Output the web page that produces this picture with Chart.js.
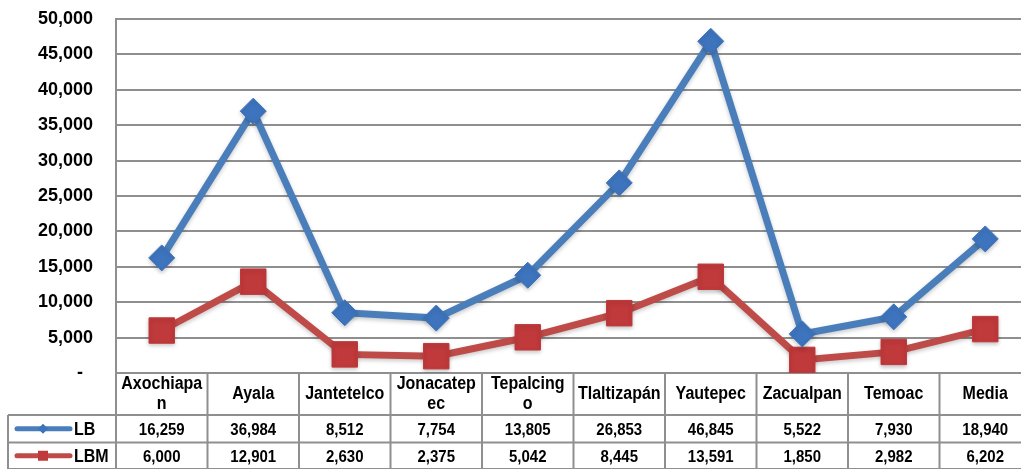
<!DOCTYPE html>
<html>
<head>
<meta charset="utf-8">
<script src="https://cdn.jsdelivr.net/npm/chart.js@4/dist/chart.umd.min.js"></script>
<style>
  html, body { margin: 0; padding: 0; background: #fff; overflow: hidden; }
  #wrap { width: 1032px; height: 469px; }
</style>
</head>
<body>
<div id="wrap"><canvas id="c" width="1032" height="469"></canvas></div>
<script>
const categories = ['Axochiapan', 'Ayala', 'Jantetelco', 'Jonacatepec', 'Tepalcingo', 'Tlaltizapán', 'Yautepec', 'Zacualpan', 'Temoac', 'Media'];
const lbValues = [16259, 36984, 8512, 7754, 13805, 26853, 46845, 5522, 7930, 18940];
const lbmValues = [6000, 12901, 2630, 2375, 5042, 8445, 13591, 1850, 2982, 6202];
const yTicks = [0, 5000, 10000, 15000, 20000, 25000, 30000, 35000, 40000, 45000, 50000];

const FONT = '"Liberation Sans", Arial, sans-serif';
const GRID = '#8f8f8f';
const BLUE = '#4a7ebb', BLUE_PT = '#3d74bd';
const RED = '#be4b48', RED_PT = '#c0393b';

function fmt(v) { return v.toLocaleString('en-US'); }

// split a label into lines that fit the column, breaking inside words like the original
function wrap(ctx, text, maxW) {
  const lines = [];
  let cur = '';
  for (const ch of text) {
    if (cur && ctx.measureText(cur + ch).width > maxW) { lines.push(cur); cur = ch; }
    else cur += ch;
  }
  if (cur) lines.push(cur);
  return lines;
}

// text in the table looks slightly taller than wide
function tallText(ctx, s, x, y) {
  ctx.save();
  ctx.translate(x, y);
  ctx.scale(1, 1.15);
  ctx.fillText(s, 0, 0);
  ctx.restore();
}

const shadow = {
  id: 'shadow',
  beforeDatasetsDraw(chart) {
    const ctx = chart.ctx;
    ctx.save();
    ctx.shadowColor = 'rgba(0,0,0,0.22)';
    ctx.shadowBlur = 4;
    ctx.shadowOffsetY = 2;
  },
  afterDatasetsDraw(chart) { chart.ctx.restore(); }
};

const table = {
  id: 'table',
  afterDraw(chart) {
    const ctx = chart.ctx;
    const xs = chart.scales.x;
    const area = chart.chartArea;
    const colW = xs.getPixelForValue(1) - xs.getPixelForValue(0);
    const left = area.left, right = area.right;
    const r0 = area.bottom, r1 = r0 + 42, r2 = r1 + 27.5, r3 = r2 + 26.5;
    const legLeft = 8;

    ctx.save();
    ctx.strokeStyle = GRID;
    ctx.lineWidth = 2;
    ctx.beginPath();
    [r1, r2, r3].forEach(y => { ctx.moveTo(legLeft, y); ctx.lineTo(right, y); });
    ctx.moveTo(legLeft, r1); ctx.lineTo(legLeft, r3);
    for (let k = 0; k <= categories.length; k++) {
      const x = left + k * colW;
      ctx.moveTo(x, r0); ctx.lineTo(x, r3);
    }
    ctx.stroke();

    ctx.fillStyle = '#000';
    ctx.textAlign = 'center';
    ctx.textBaseline = 'middle';
    ctx.font = 'bold 16px ' + FONT;
    categories.forEach((c, i) => {
      const cx = xs.getPixelForValue(i);
      const lines = wrap(ctx, c, 83);
      const mid = (r0 + r1) / 2;
      lines.forEach((ln, j) => tallText(ctx, ln, cx, mid + (j - (lines.length - 1) / 2) * 20));
    });

    ctx.font = 'bold 15px ' + FONT;
    const rows = [[lbValues, (r1 + r2) / 2], [lbmValues, (r2 + r3) / 2]];
    rows.forEach(([vals, cy]) => {
      vals.forEach((v, i) => tallText(ctx, fmt(v), xs.getPixelForValue(i), cy + 1));
    });

    // legend keys
    const keys = [
      { name: 'LB', color: BLUE, pt: BLUE_PT, diamond: true, cy: (r1 + r2) / 2 },
      { name: 'LBM', color: RED, pt: RED_PT, diamond: false, cy: (r2 + r3) / 2 }
    ];
    keys.forEach(k => {
      ctx.strokeStyle = k.color;
      ctx.lineWidth = 5;
      ctx.lineCap = 'round';
      ctx.beginPath();
      ctx.moveTo(17, k.cy); ctx.lineTo(70, k.cy);
      ctx.stroke();
      ctx.fillStyle = k.pt;
      ctx.beginPath();
      if (k.diamond) {
        ctx.moveTo(43, k.cy - 5); ctx.lineTo(48, k.cy); ctx.lineTo(43, k.cy + 5); ctx.lineTo(38, k.cy);
      } else {
        ctx.rect(38, k.cy - 5, 10, 10);
      }
      ctx.fill();
      ctx.fillStyle = '#000';
      ctx.textAlign = 'left';
      ctx.font = 'bold 16px ' + FONT;
      tallText(ctx, k.name, 74, k.cy + 1);
    });
    ctx.restore();
  }
};

new Chart(document.getElementById('c'), {
  type: 'line',
  data: {
    labels: categories,
    datasets: [
      {
        label: 'LB', data: lbValues,
        borderColor: BLUE, borderWidth: 7,
        pointStyle: 'rectRot', pointRadius: 13, pointHoverRadius: 13,
        pointBackgroundColor: BLUE_PT, pointBorderColor: BLUE_PT, pointBorderWidth: 1,
        tension: 0
      },
      {
        label: 'LBM', data: lbmValues,
        borderColor: RED, borderWidth: 7,
        pointStyle: 'rect', pointRadius: 18, pointHoverRadius: 18,
        pointBackgroundColor: RED_PT, pointBorderColor: RED_PT, pointBorderWidth: 1,
        tension: 0
      }
    ]
  },
  options: {
    responsive: false,
    animation: false,
    layout: { autoPadding: false, padding: { top: 19, right: 1, bottom: 88, left: 0 } },
    plugins: { legend: { display: false }, tooltip: { enabled: false } },
    scales: {
      x: {
        type: 'category',
        offset: true,
        grid: { display: false },
        border: { display: false },
        ticks: { display: false }
      },
      y: {
        min: 0, max: 50000,
        afterBuildTicks(scale) { scale.ticks = yTicks.map(v => ({ value: v })); },
        afterFit(scale) {
          scale.width = 116;
          // tick padding would otherwise push the plot top down
          scale.paddingTop = 0;
          scale.paddingBottom = 0;
        },
        grid: { color: GRID, lineWidth: 2, drawTicks: false },
        border: { display: true, color: GRID, width: 2 },
        ticks: {
          padding: 23,
          color: '#000',
          font: { family: FONT, size: 18, weight: 'bold' },
          callback: v => v === 0 ? '-  ' : fmt(v)
        }
      }
    }
  },
  plugins: [shadow, table]
});
</script>
</body>
</html>
